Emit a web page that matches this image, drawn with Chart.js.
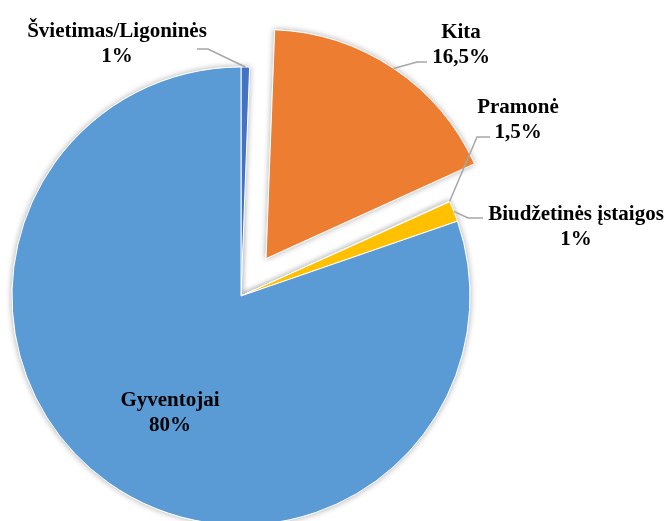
<!DOCTYPE html>
<html>
<head>
<meta charset="utf-8">
<script src="https://cdn.jsdelivr.net/npm/chart.js@4.4.0/dist/chart.umd.min.js"></script>
<style>
  html, body { margin: 0; padding: 0; width: 669px; height: 521px; overflow: hidden; background: #fff; }
  #wrap { position: absolute; left: 0; top: 0; width: 669px; height: 600px; }
</style>
</head>
<body>
<div id="wrap"><canvas id="grafikas" width="669" height="600"></canvas></div>
<script>
// data (clockwise from 12 o'clock)
const categories = ["Švietimas/Ligoninės", "Kita", "Pramonė", "Biudžetinės įstaigos", "Gyventojai"];
const values = [0.6, 17.6, 0.05, 1.45, 80.3];
const percentLabels = ["1%", "16,5%", "1,5%", "1%", "80%"];

const colors = ["#4472C4", "#ED7D31", "#A5A5A5", "#FFC000", "#5B9BD5"];
const explodePx = [0, 45, 0, 0, 0];

// label placement (baseline of first line) and leader line elbows
const labelLayout = [
  { x: 117, y: 37, leader: [[208, 49], [197, 49]] },
  { x: 461, y: 38, leader: [[417, 62], [427, 62]] },
  { x: 518, y: 113, leader: [[477, 137], [490, 137]] },
  { x: 576, y: 220, leader: [[468, 218], [483, 218]] },
  { x: 170, y: 406, leader: null }
];

function midAngle(arc) {
  const { startAngle, endAngle } = arc.getProps(["startAngle", "endAngle"], true);
  return (startAngle + endAngle) / 2;
}

// pull slices out without changing their radius (chart.js offset also grows the arc)
const explodePlugin = {
  id: "explode",
  beforeDatasetsDraw(chart) {
    chart.getDatasetMeta(0).data.forEach((arc, i) => {
      if (!explodePx[i] || arc._exploded) return;
      const original = arc.draw.bind(arc);
      arc.draw = (ctx) => {
        const mid = midAngle(arc);
        ctx.save();
        ctx.translate(Math.cos(mid) * explodePx[i], Math.sin(mid) * explodePx[i]);
        original(ctx);
        ctx.restore();
      };
      arc._exploded = true;
    });
  }
};

const shadowPlugin = {
  id: "shadow",
  beforeDatasetsDraw(chart) {
    const ctx = chart.ctx;
    const arcs = chart.getDatasetMeta(0).data;
    ctx.save();
    ctx.shadowColor = "rgba(0, 0, 0, 0.3)";
    ctx.shadowBlur = 6;
    arcs.forEach((arc) => arc.draw(ctx));
    ctx.restore();
  }
};

const labelPlugin = {
  id: "pieLabels",
  afterDatasetsDraw(chart) {
    const ctx = chart.ctx;
    const arcs = chart.getDatasetMeta(0).data;

    arcs.forEach((arc, i) => {
      const layout = labelLayout[i];

      if (layout.leader) {
        const { x, y, outerRadius } = arc.getProps(["x", "y", "outerRadius"], true);
        const mid = midAngle(arc);
        const r = outerRadius + explodePx[i];

        ctx.save();
        ctx.beginPath();
        ctx.moveTo(x + Math.cos(mid) * r, y + Math.sin(mid) * r);
        layout.leader.forEach((p) => ctx.lineTo(p[0], p[1]));
        ctx.strokeStyle = "#A6A6A6";
        ctx.lineWidth = 1.5;
        ctx.stroke();
        ctx.restore();
      }

      ctx.save();
      ctx.fillStyle = "#000";
      ctx.font = "bold 21px 'Liberation Serif'";
      ctx.textAlign = "center";
      ctx.textBaseline = "alphabetic";
      ctx.fillText(categories[i], layout.x, layout.y);
      ctx.fillText(percentLabels[i], layout.x, layout.y + 25);
      ctx.restore();
    });
  }
};

new Chart(document.getElementById("grafikas"), {
  type: "pie",
  data: {
    labels: categories,
    datasets: [
      {
        data: values,
        backgroundColor: colors,
        borderColor: "#ffffff",
        borderWidth: 1,
        hoverOffset: 0
      }
    ]
  },
  options: {
    responsive: false,
    devicePixelRatio: 1,
    animation: false,
    events: [],
    radius: 229,
    layout: { padding: { left: 0, right: 187, top: 0, bottom: 8 } },
    plugins: {
      legend: { display: false },
      tooltip: { enabled: false }
    }
  },
  plugins: [explodePlugin, shadowPlugin, labelPlugin]
});
</script>
</body>
</html>
